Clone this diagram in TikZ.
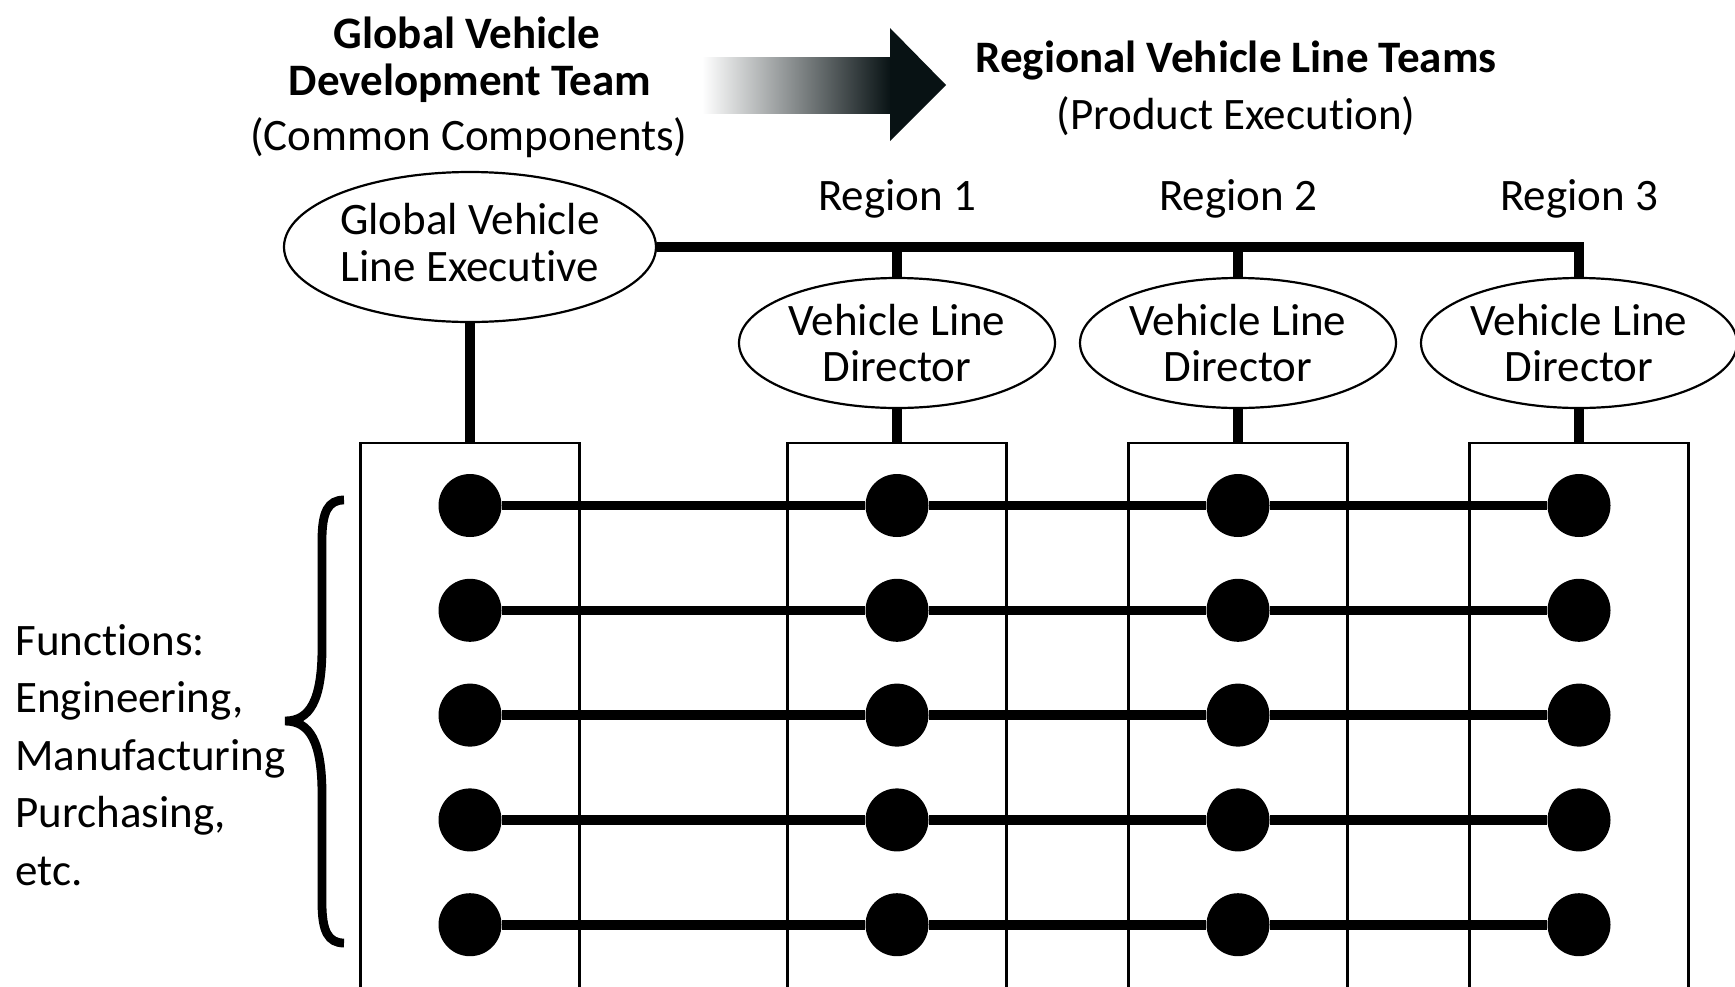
\documentclass[tikz,border=0pt]{standalone}
\usepackage{fontspec}
\setmainfont{Carlito}[Ligatures={NoCommon,NoContextual}]
\usetikzlibrary{shapes.geometric}
\definecolor{arrowdark}{RGB}{8,18,20}
\newcommand{\nolig}{\kern0pt }
\begin{document}
\begin{tikzpicture}[x=0.5pt,y=-0.5pt,
  txt/.style={font=\fontsize{22.5}{23.25}\selectfont, inner sep=0pt, anchor=base},
  boldtxt/.style={font=\fontsize{22.5}{23.25}\selectfont\bfseries, inner sep=0pt, anchor=base},
  oval/.style={ellipse, draw, line width=1.1pt, inner sep=0pt, align=center,
    font=\fontsize{22.5}{23.25}\selectfont},
  colbox/.style={rectangle, draw, line width=1.1pt, minimum width=109.5pt, minimum height=278.5pt, inner sep=0pt},
  fdot/.style={circle, fill=black, minimum size=31.5pt, inner sep=0pt},
  conn/.style={line width=5pt},
  rowline/.style={line width=4.8pt},
  bracestroke/.style={line width=4.4pt}
]
\clip (0,0) rectangle (1735,986);
\fill[white] (0,0) rectangle (1735,986);

% headings
\node[boldtxt] (t1) at (467,48) {Global Vehicle};
\node[boldtxt] (t2) at (470,95) {Development Team};
\node[txt] (t3) at (469,150) {(Common Components)};
\node[boldtxt] (t4) at (1236,72) {Regional Vehicle Line Teams};
\node[txt] (t5) at (1236,129) {(Product Execut\nolig ion)};

% gradient arrow
\shade[left color=white, right color=arrowdark] (702,57) rectangle (891,113);
\fill[arrowdark] (890,28) -- (946,85) -- (890,141) -- cycle;

% region labels
\node[txt] (r1) at (897,210) {Region 1};
\node[txt] (r2) at (1238,210) {Region 2};
\node[txt] (r3) at (1579,210) {Region 3};

% executives
\node[oval, minimum width=186pt, minimum height=75pt] (ge) at (470,247) {Global Vehicle\\Line Execut\nolig ive\rule[-4.4pt]{0pt}{0pt}};
\node[oval, minimum width=158pt, minimum height=65pt] (v1) at (897,343) {Vehicle Line\\Director};
\node[oval, minimum width=158pt, minimum height=65pt] (v2) at (1238,343) {Vehicle Line\\Director};
\node[oval, minimum width=158pt, minimum height=65pt] (v3) at (1579,343) {Vehicle Line\\Director};

% column boxes
\node[colbox] (b1) at (470,721.5) {};
\node[colbox] (b2) at (897,721.5) {};
\node[colbox] (b3) at (1238,721.5) {};
\node[colbox] (b4) at (1579,721.5) {};

% connectors
\coordinate (corner) at (v3.north |- ge.east);
\draw[conn] (ge.east) -- (corner) -- (v3.north);
\draw[conn] (v1.north |- ge.east) -- (v1.north);
\draw[conn] (v2.north |- ge.east) -- (v2.north);
\draw[conn] (ge.south) -- (b1.north);
\draw[conn] (v1.south) -- (b2.north);
\draw[conn] (v2.south) -- (b3.north);
\draw[conn] (v3.south) -- (b4.north);

% function rows
\foreach \r/\y in {1/505.5,2/610.3,3/715.1,4/819.9,5/924.7} {
  \foreach \c/\x in {1/470,2/897,3/1238,4/1579}
    \node[fdot] (d\r\c) at (\x,\y) {};
  \draw[rowline] (d\r1) -- (d\r2) -- (d\r3) -- (d\r4);
}

% brace and label
\draw[bracestroke] (344,500) .. controls (328,500) and (322,512) .. (322,540)
  -- (322,648) .. controls (322,700) and (310,721) .. (285,721)
  .. controls (310,721) and (322,742) .. (322,794)
  -- (322,903) .. controls (322,931) and (328,943) .. (344,943);
\node[font=\fontsize{22.5}{28.75}\selectfont, inner sep=0pt, align=left, anchor=base west] (fn) at (15,885)
  {Funct\nolig ions:\\Engineering,\\Manufacturing\\Purchasing,\\etc.};
\end{tikzpicture}
\end{document}
